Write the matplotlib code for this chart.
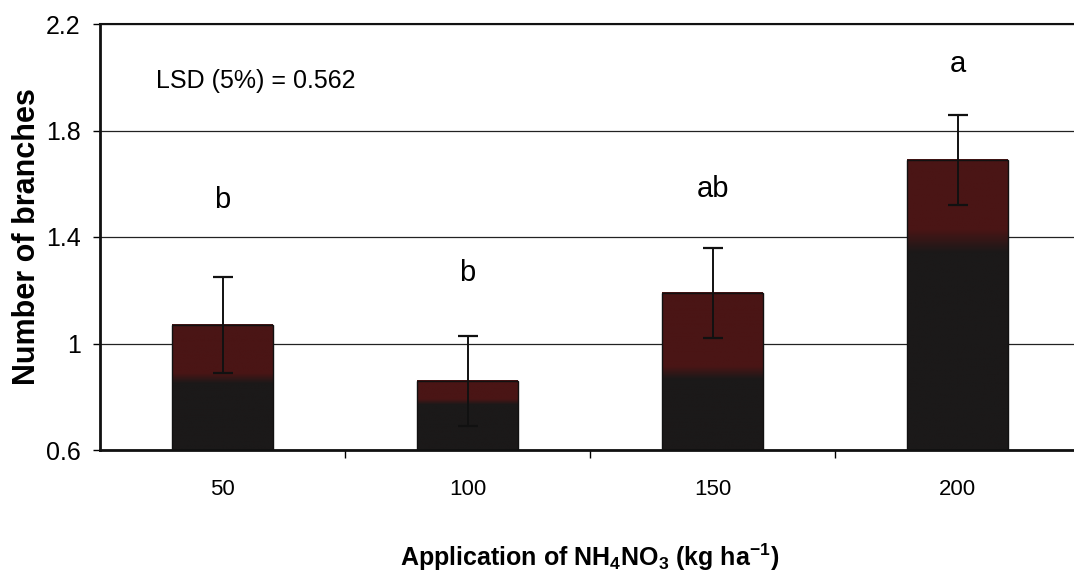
import numpy as np
import matplotlib
matplotlib.use('Agg')
from matplotlib import pyplot as plt
from matplotlib.colors import LinearSegmentedColormap

plt.rcParams['font.family'] = ['Liberation Sans', 'DejaVu Sans']
plt.rcParams['mathtext.fontset'] = 'custom'
plt.rcParams['mathtext.rm'] = 'Liberation Sans:bold'
plt.rcParams['mathtext.bf'] = 'Liberation Sans:bold'
plt.rcParams['mathtext.default'] = 'bf'

# data
rates = ['50', '100', '150', '200']
branches = [1.07, 0.86, 1.19, 1.69]
errors = [0.18, 0.17, 0.17, 0.17]
letters = ['b', 'b', 'ab', 'a']
letter_y = [1.51, 1.235, 1.55, 2.02]

# how much of each bar (from the top) shows the red shade
red_part = [0.42, 0.3, 0.5, 0.27]

fig = plt.figure(figsize=(10.74, 5.72), dpi=100)
ax = fig.add_axes([100 / 1074, 122 / 572, 980 / 1074, 426 / 572])

x = np.arange(len(rates))
width = 0.41
ymin = 0.6

red = '#4a1515'
dark = '#1b1919'
for xi, val, rp in zip(x, branches, red_part):
    edge = 1 - rp
    cmap = LinearSegmentedColormap.from_list('rb', [(0.0, dark), (max(edge - 0.05, 0), dark),
                                                    (min(edge + 0.03, 1), red), (1.0, red)])
    grad = np.linspace(0, 1, 256).reshape(-1, 1)
    ax.imshow(grad, extent=(xi - width / 2, xi + width / 2, ymin, val), origin='lower',
              aspect='auto', cmap=cmap, zorder=2)
ax.bar(x, np.array(branches) - ymin, width, bottom=ymin, facecolor='none',
       edgecolor='#111111', linewidth=1, zorder=3)

ax.errorbar(x, branches, yerr=errors, fmt='none', ecolor='#111111', elinewidth=1.4,
            capsize=7, capthick=1.6, zorder=4)

for xi, lt, ly in zip(x, letters, letter_y):
    ax.text(xi, ly, lt, ha='center', va='baseline', fontsize=21)

ax.text(-0.273, 1.96, 'LSD (5%) = 0.562', ha='left', va='baseline', fontsize=18)

ax.set_xlim(-0.5, 3.5)
ax.set_ylim(0.6, 2.2)
ax.set_yticks([0.6, 1.0, 1.4, 1.8, 2.2])
ax.set_yticklabels(['0.6', '1', '1.4', '1.8', '2.2'], fontsize=18)
ax.set_xticks(x)
ax.set_xticklabels(rates, fontsize=16)
ax.set_xticks([0.5, 1.5, 2.5], minor=True)
ax.tick_params(axis='x', which='major', length=0, pad=21)
ax.tick_params(axis='x', which='minor', length=6, direction='out', width=1)
ax.tick_params(axis='y', length=5, width=1, pad=9)

ax.yaxis.grid(True, color='#222222', linewidth=0.9)
ax.set_axisbelow(True)
for s in ['left', 'bottom']:
    ax.spines[s].set_linewidth(2)
    ax.spines[s].set_color('#111111')
ax.spines['top'].set_linewidth(1.5)
ax.spines['top'].set_color('#111111')
ax.spines['right'].set_visible(False)

ax.set_ylabel('Number of branches', fontsize=22, fontweight='bold', labelpad=3)
ax.set_xlabel(r'Application of NH$_4$NO$_3$ (kg ha$^{-1}$)', fontsize=18, fontweight='bold',
              labelpad=30)

plt.savefig('out.png', dpi=100)
